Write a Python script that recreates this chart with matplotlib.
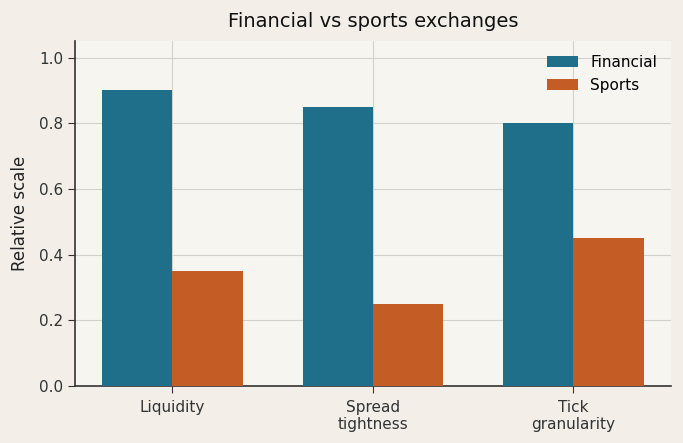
import matplotlib
matplotlib.use("Agg")
import matplotlib.pyplot as plt
import numpy as np

categories = ["Liquidity", "Spread\ntightness", "Tick\ngranularity"]
financial = [0.90, 0.85, 0.80]
sports = [0.35, 0.25, 0.45]

fig = plt.figure(figsize=(6.83, 4.43), dpi=100)
fig.patch.set_facecolor("#f3efe8")
ax = fig.add_axes([0.110, 0.129, 0.872, 0.778])
ax.set_facecolor("#f7f5f0")

x = np.arange(len(categories))
w = 0.35
ax.bar(x - w/2, financial, w, color="#1f6f8b", label="Financial", zorder=3)
ax.bar(x + w/2, sports, w, color="#c45c26", label="Sports", zorder=3)

ax.set_xticks(x)
ax.set_xticklabels(categories, fontsize=11, color="#333333", linespacing=1.15)
ax.set_ylim(0, 1.05)
ax.set_yticks([0, 0.2, 0.4, 0.6, 0.8, 1.0])
ax.set_yticklabels(["0.0", "0.2", "0.4", "0.6", "0.8", "1.0"], fontsize=11, color="#333333")
ax.set_ylabel("Relative scale", fontsize=12, color="#222222", labelpad=7)
ax.set_title("Financial vs sports exchanges", fontsize=14, pad=10, color="#111111")
ax.grid(True, color="#d3d1cc", linewidth=0.8, zorder=0)
ax.set_axisbelow(True)
for s in ["top", "right"]:
    ax.spines[s].set_visible(False)
for s in ["left", "bottom"]:
    ax.spines[s].set_color("#333333")
    ax.spines[s].set_linewidth(1.2)
ax.tick_params(colors="#333333", length=5)
ax.tick_params(axis="x", pad=5)
ax.legend(frameon=False, fontsize=11, loc="upper right")
fig.savefig("out.png", dpi=100, facecolor=fig.get_facecolor())
